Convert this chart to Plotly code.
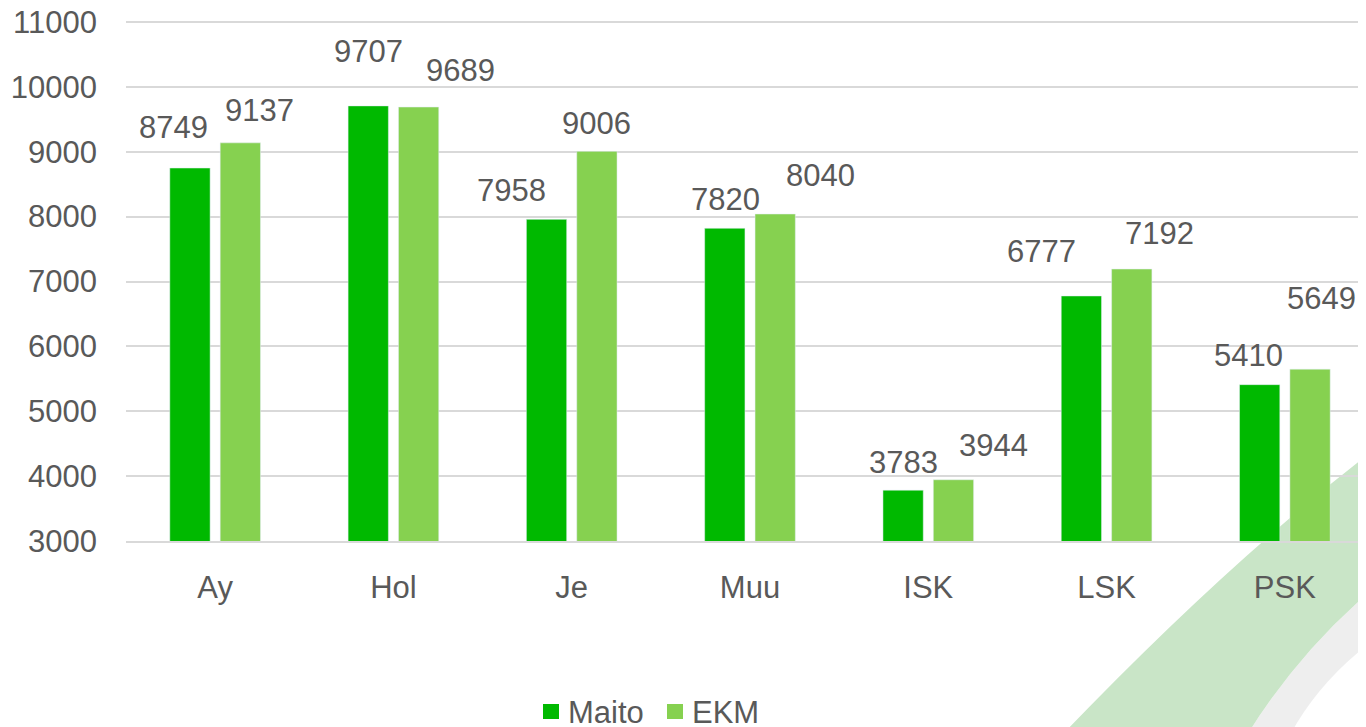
import plotly.graph_objects as go

categories = ["Ay", "Hol", "Je", "Muu", "ISK", "LSK", "PSK"]
maito = [8749, 9707, 7958, 7820, 3783, 6777, 5410]
ekm = [9137, 9689, 9006, 8040, 3944, 7192, 5649]
series_names = ["Maito", "EKM"]
y_ticks = [3000, 4000, 5000, 6000, 7000, 8000, 9000, 10000, 11000]

# label offsets (pixels) relative to bar top centre
maito_dx = [-17, 0, -35, 0, 0, -40, -11]
maito_dy = [41, 54, 29, 29, 28, 44, 29]
ekm_dx = [19, 42, 0, 45, 40, 28, 12]
ekm_dy = [32, 37, 28, 39, 34, 36, 71]

C_MAITO = "#00B900"
C_EKM = "#86D150"
TXT = "#595959"
FONT = "Liberation Sans, Arial, sans-serif"
FS = 31

OFF = 8  # page body margin
W, H = 1366, 727
PAGE_Y0, PAGE_Y11 = 541, 22   # page pixel of 3000 and 11000
L = 126 - OFF
T = 10
R = 0
B = H - (PAGE_Y0 - OFF)
PW, PH = W - L - R, H - T - B
unit_px = (PAGE_Y0 - PAGE_Y11) / (y_ticks[-1] - y_ticks[0])
y_top = y_ticks[0] + PH / unit_px

def px(x):  # page pixel -> paper
    return (x - OFF - L) / PW

def py(y):
    return (H - B - (y - OFF)) / PH

fig = go.Figure()
fig.add_trace(go.Bar(name=series_names[0], x=categories, y=maito, marker_color=C_MAITO))
fig.add_trace(go.Bar(name=series_names[1], x=categories, y=ekm, marker_color=C_EKM))

ann = []
for i, c in enumerate(categories):
    ann.append(dict(x=c, y=maito[i], xref="x", yref="y", text=str(maito[i]), showarrow=False,
                    xshift=-25 + maito_dx[i], yshift=maito_dy[i], font=dict(size=FS, color=TXT, family=FONT)))
    ann.append(dict(x=c, y=ekm[i], xref="x", yref="y", text=str(ekm[i]), showarrow=False,
                    xshift=25 + ekm_dx[i], yshift=ekm_dy[i], font=dict(size=FS, color=TXT, family=FONT)))

# custom legend
leg = [(543, C_MAITO, series_names[0]), (667, C_EKM, series_names[1])]
shapes = []
for x0, col, name in leg:
    shapes.append(dict(type="rect", xref="paper", yref="paper", x0=px(x0), x1=px(x0 + 16),
                       y0=py(719), y1=py(704), fillcolor=col, line=dict(width=0)))
    ann.append(dict(x=px(x0 + 23), y=py(712), xref="paper", yref="paper", text=name, showarrow=False,
                    xanchor="left", yanchor="middle", font=dict(size=FS, color=TXT, family=FONT)))

# decorative swoosh in the bottom-right corner
swoosh = (f"M {px(1062)} {py(735)} "
          f"Q {px(1230)} {py(560)} {px(1374)} {py(450)} "
          f"L {px(1374)} {py(588)} "
          f"Q {px(1300)} {py(650)} {px(1247)} {py(735)} Z")
shadow = (f"M {px(1247)} {py(735)} "
          f"Q {px(1300)} {py(650)} {px(1374)} {py(588)} "
          f"L {px(1374)} {py(640)} "
          f"Q {px(1320)} {py(680)} {px(1290)} {py(735)} Z")
shapes = [
    dict(type="path", path=shadow, xref="paper", yref="paper", fillcolor="rgba(200,200,200,0.3)",
         line=dict(width=0), layer="below"),
    dict(type="path", path=swoosh, xref="paper", yref="paper", fillcolor="#C9E5C7",
         line=dict(width=0), layer="below"),
] + shapes

fig.update_layout(
    width=W, height=H,
    margin=dict(l=L, r=R, t=T, b=B, autoexpand=False),
    paper_bgcolor="white", plot_bgcolor="rgba(0,0,0,0)",
    barmode="group", bargap=0.435, bargroupgap=0.2,
    font=dict(family=FONT, size=FS, color=TXT),
    showlegend=False,
    annotations=ann,
    shapes=shapes,
)
fig.update_yaxes(range=[y_ticks[0], y_top], tickvals=y_ticks, tickformat="d",
                 ticklabeloverflow="allow",
                 showgrid=True, gridcolor="#D9D9D9",
                 gridwidth=2, zeroline=False, tickfont=dict(size=FS, color=TXT), ticklabelstandoff=28,
                 showline=False, automargin=False)
fig.update_xaxes(showgrid=False, showline=True, linecolor="#D9D9D9", linewidth=2, automargin=False,
                 tickfont=dict(size=FS, color=TXT), ticklabelstandoff=18, ticks="")

fig.write_html("out.html")
